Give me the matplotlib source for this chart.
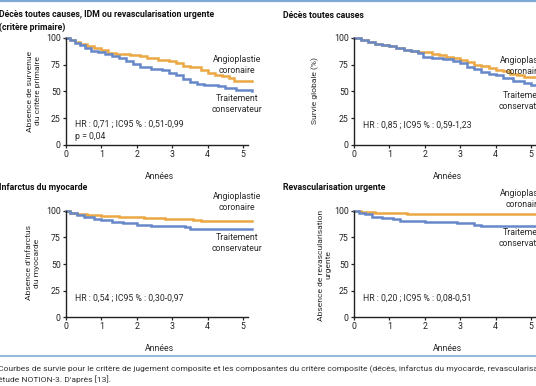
import matplotlib
matplotlib.use("Agg")
from matplotlib import pyplot as plt

# ---- data (Kaplan-Meier steps, % event-free) ----
years = [0, 1, 2, 3, 4, 5]
yticks = [0, 25, 50, 75, 100]

p1_pci_t = [0, 0.1, 0.25, 0.4, 0.6, 0.8, 1.0, 1.2, 1.4, 1.8, 2.1, 2.3, 2.6, 2.9, 3.1, 3.3, 3.5, 3.8, 4.0, 4.2, 4.4, 4.6, 4.75, 5.25]
p1_pci_s = [100, 98, 96, 94, 92, 90, 88.5, 86, 84.5, 84, 83, 81, 79.5, 78, 76, 74, 72.5, 70, 67, 65.5, 64, 62, 60, 60]
p1_med_t = [0, 0.1, 0.25, 0.4, 0.55, 0.7, 0.9, 1.1, 1.3, 1.5, 1.7, 1.9, 2.1, 2.4, 2.7, 2.9, 3.1, 3.3, 3.5, 3.7, 3.9, 4.3, 4.5, 4.8, 5.25]
p1_med_s = [100, 98, 95.5, 93, 90, 88, 87, 85, 83, 81, 78.5, 75.5, 73, 71, 69.5, 67.5, 65.5, 61.5, 59, 57, 55.5, 55, 53, 51, 50.5]

p2_pci_t = [0, 0.2, 0.4, 0.6, 0.8, 1.0, 1.2, 1.4, 1.6, 1.8, 2.0, 2.2, 2.4, 2.6, 2.8, 3.0, 3.2, 3.4, 3.6, 3.8, 4.0, 4.2, 4.4, 4.6, 4.8, 5.25]
p2_pci_s = [100, 98, 96, 94, 93, 92, 90, 89, 87.5, 87, 86.5, 85, 83.5, 82, 81, 79.5, 77, 75, 73.5, 72, 70, 68.5, 66.5, 65, 63, 62.5]
p2_med_t = [0, 0.2, 0.4, 0.6, 0.8, 1.0, 1.2, 1.4, 1.6, 1.8, 1.95, 2.2, 2.5, 2.8, 3.0, 3.2, 3.4, 3.6, 3.8, 4.0, 4.2, 4.5, 4.8, 5.0, 5.25]
p2_med_s = [100, 98, 96, 94.5, 93, 92, 90.5, 88.5, 87.5, 86, 82, 81, 80, 78, 76, 73, 70.5, 68, 66, 65, 62, 60, 58, 56, 55.5]

p3_pci_t = [0, 0.1, 0.3, 0.6, 1.0, 1.5, 2.2, 2.8, 3.6, 3.8, 5.25]
p3_pci_s = [100, 98, 96.5, 95.5, 95, 94, 93, 92, 91, 90, 90]
p3_med_t = [0, 0.1, 0.3, 0.5, 0.8, 1.0, 1.3, 1.6, 2.0, 2.4, 2.8, 3.35, 3.5, 5.25]
p3_med_s = [100, 98, 96, 94, 92, 91, 89, 88, 87, 86, 85.5, 84.5, 82.5, 82.5]

p4_pci_t = [0, 0.2, 0.6, 1.5, 2.5, 5.25]
p4_pci_s = [100, 98.5, 97.5, 97, 96.8, 96.8]
p4_med_t = [0, 0.15, 0.3, 0.5, 0.8, 1.1, 1.3, 1.7, 2.0, 2.5, 2.9, 3.4, 3.6, 5.25]
p4_med_s = [100, 98, 96.5, 94, 93, 92, 90.5, 90, 89.5, 89, 88, 87, 85.5, 85.5]

hr_texts = ["HR : 0,71 ; IC95 % : 0,51-0,99\np = 0,04",
            "HR : 0,85 ; IC95 % : 0,59-1,23",
            "HR : 0,54 ; IC95 % : 0,30-0,97",
            "HR : 0,20 ; IC95 % : 0,08-0,51"]

ORANGE = "#EBA843"
BLUE = "#6688C9"
TXT = "#2b2b2b"

plt.rcParams["font.family"] = ["Roboto", "DejaVu Sans"]

W, H = 536, 386
fig = plt.figure(figsize=(W / 100, H / 100), dpi=100)


def fx(px):
    return px / W


def fy(py):
    return 1 - py / H


def make_axes(x0, ytop, ybot):
    ax = fig.add_axes([fx(x0), fy(ybot), fx(5.3 * 35.4), (ybot - ytop) / H])
    ax.set_xlim(0, 5.3)
    ax.set_ylim(0, 100)
    ax.spines["top"].set_visible(False)
    ax.spines["right"].set_visible(False)
    ax.spines["bottom"].set_bounds(0, 5.15)
    for s in ("left", "bottom"):
        ax.spines[s].set_linewidth(1.0)
        ax.spines[s].set_color("#222222")
    ax.set_xticks(years)
    ax.set_yticks(yticks)
    ax.tick_params(length=2.5, width=0.9, pad=1.2, labelsize=6.3, colors="#222222")
    ax.set_xlabel("Années", fontsize=6.3, color=TXT, labelpad=9)
    return ax


def km(ax, t, s, color):
    ax.plot(t, s, drawstyle="steps-post", color=color, lw=1.8, clip_on=False, solid_joinstyle="miter")


panels = [
    (66, 37.7, 145.0, p1_pci_t, p1_pci_s, p1_med_t, p1_med_s),
    (354, 37.7, 145.0, p2_pci_t, p2_pci_s, p2_med_t, p2_med_s),
    (66, 210.7, 317.3, p3_pci_t, p3_pci_s, p3_med_t, p3_med_s),
    (354, 210.7, 317.3, p4_pci_t, p4_pci_s, p4_med_t, p4_med_s),
]

axes = []
for x0, yt, yb, pt, ps, mt, ms in panels:
    ax = make_axes(x0, yt, yb)
    km(ax, pt, ps, ORANGE)
    km(ax, mt, ms, BLUE)
    axes.append(ax)

# HR annotations (figure pixel coords)
hr_pos = [(75, 130), (363, 125), (75, 298), (363, 298)]
for (x, y), txt in zip(hr_pos, hr_texts):
    fig.text(fx(x), fy(y), txt, fontsize=6.3, color=TXT, ha="left", va="center", linespacing=1.5)

# curve labels (right column runs past the picture edge, as in the reference)
lab_pos = [(237, 65, 104), (524, 66, 101), (237, 202, 243), (524, 199, 238)]
for x, ya, yt in lab_pos:
    fig.text(fx(x), fy(ya), "Angioplastie\ncoronaire", fontsize=6.3, color=TXT, ha="center", va="center", linespacing=1.2)
    fig.text(fx(x), fy(yt), "Traitement\nconservateur", fontsize=6.3, color=TXT, ha="center", va="center", linespacing=1.2)

# titles
fig.text(fx(-1), fy(21), "Décès toutes causes, IDM ou revascularisation urgente\n(critère primaire)",
         fontsize=6.3, fontweight="bold", color="#111111", ha="left", va="center", linespacing=1.5)
fig.text(fx(283), fy(16), "Décès toutes causes", fontsize=6.3, fontweight="bold", color="#111111", ha="left", va="center")
fig.text(fx(-1), fy(188), "Infarctus du myocarde", fontsize=6.3, fontweight="bold", color="#111111", ha="left", va="center")
fig.text(fx(283), fy(188), "Revascularisation urgente", fontsize=6.3, fontweight="bold", color="#111111", ha="left", va="center")

# y labels
ylab = [(34, 91, "Absence de survenue\ndu critère primaire"),
        (315, 91, "Survie globale (%)"),
        (33, 263, "Absence d'infarctus\ndu myocarde"),
        (325, 265, "Absence de revascularisation\nurgente")]
for x, y, txt in ylab:
    fig.text(fx(x), fy(y), txt, fontsize=6.1, color=TXT, rotation=90, ha="center", va="center", linespacing=1.3)

# frame lines and caption
fig.add_artist(plt.Line2D([0, 1], [fy(0.8), fy(0.8)], color="#7FAAD8", lw=1.6))
fig.add_artist(plt.Line2D([0, 1], [fy(355.5), fy(355.5)], color="#7FAAD8", lw=1.2))
fig.text(fx(-2), fy(369),
         "Courbes de survie pour le critère de jugement composite et les composantes du critère composite (décès, infarctus du myocarde, revascularisation urgente) dans l'",
         fontsize=6.1, color="#333333", ha="left", va="center")
fig.text(fx(-2), fy(379.5), "étude NOTION-3. D'après [13].", fontsize=6.1, color="#333333", ha="left", va="center")

fig.savefig("out.png", dpi=100)
